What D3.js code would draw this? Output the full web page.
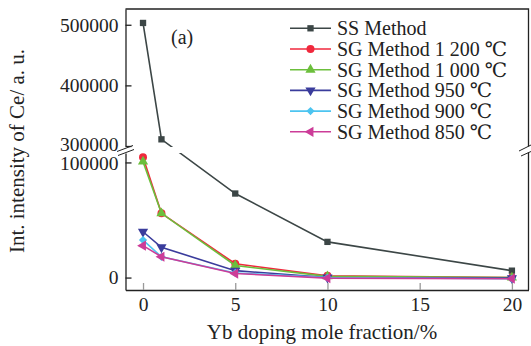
<!DOCTYPE html>
<html>
<head>
<meta charset="utf-8">
<script src="https://cdn.jsdelivr.net/npm/d3@7"></script>
<style>
body { margin: 0; background: #fff; }
text { font-family: "Liberation Serif", "DejaVu Serif", serif; fill: #222; }
</style>
</head>
<body>
<svg width="531" height="346"></svg>
<script>
// data
var xVals = [0, 1, 5, 10, 20];
var ssMethod = [503000, 311000, 73000, 31000, 6000];
var sg1200 = [104500, 55800, 12000, 1500, 0];
var sg1000 = [100700, 55800, 10500, 1000, 0];
var sg950 = [39800, 26300, 6000, 0, -500];
var sg900 = [32600, 18000, 4000, 0, -1000];
var sg850 = [27700, 18100, 3500, -500, -1000];
var seriesNames = ["SS Method", "SG Method 1 200 \u2103", "SG Method 1 000 \u2103",
    "SG Method 950 \u2103", "SG Method 900 \u2103", "SG Method 850 \u2103"];
var xTicks = [0, 5, 10, 15, 20];
var yTopTicks = [300000, 400000, 500000];
var yBotTicks = [0, 100000];

var colors = ["#3c4646", "#f0283c", "#6cbf3c", "#3a3c9c", "#4cc4f0", "#cc3c98"];
var shapes = ["square", "circle", "up", "down", "diamond", "left"];

function main() {
    var svg = d3.select("svg");
    var seriesVals = [ssMethod, sg1200, sg1000, sg950, sg900, sg850];

    var xScale = d3.scaleLinear().domain([-0.95, 20.9]).range([125.5, 528.5]);
    // broken y axis: two linear pieces
    var yTop = d3.scaleLinear().domain([300000, 526000]).range([146, 9]);
    var yBot = d3.scaleLinear().domain([-10800, 108200]).range([290, 153]);
    function yPos(v) { return v >= 200000 ? yTop(v) : yBot(v); }

    function symbolPath(kind) {
        if (kind == "square") return d3.symbol(d3.symbolSquare, 40)();
        if (kind == "circle") return d3.symbol(d3.symbolCircle, 50)();
        if (kind == "diamond") return d3.symbol(d3.symbolSquare, 34)();
        return d3.symbol(d3.symbolTriangle, 45)();
    }
    function symbolRot(kind) {
        if (kind == "down") return 180;
        if (kind == "left") return -90;
        if (kind == "diamond") return 45;
        return 0;
    }

    var line = d3.line()
        .x(function (d) { return xScale(d[0]); })
        .y(function (d) { return yPos(d[1]); });

    // series
    seriesVals.forEach(function (vals, i) {
        var pts = xVals.map(function (xv, j) { return [xv, vals[j]]; });
        var g = svg.append("g");
        g.append("path")
            .attr("d", line(pts))
            .attr("fill", "none")
            .attr("stroke", colors[i])
            .attr("stroke-width", 1.6);
        g.selectAll("path.mk")
            .data(pts)
            .enter().append("path")
            .attr("class", "mk")
            .attr("d", symbolPath(shapes[i]))
            .attr("fill", colors[i])
            .attr("transform", function (d) {
                return "translate(" + xScale(d[0]) + "," + yPos(d[1]) + ") rotate(" + symbolRot(shapes[i]) + ")";
            });
    });

    // white band for the break
    svg.append("rect")
        .attr("x", 120).attr("y", 147)
        .attr("width", 411).attr("height", 6)
        .attr("fill", "#fff");

    // axes
    var axTop = svg.append("g").attr("transform", "translate(125.5,0)")
        .call(d3.axisLeft(yTop).tickValues(yTopTicks).tickSizeInner(-6).tickSizeOuter(0).tickPadding(7)
            .tickFormat(d3.format("d")));
    var axBot = svg.append("g").attr("transform", "translate(125.5,0)")
        .call(d3.axisLeft(yBot).tickValues(yBotTicks).tickSizeInner(-6).tickSizeOuter(0).tickPadding(7)
            .tickFormat(d3.format("d")));
    var axX = svg.append("g").attr("transform", "translate(0,290)")
        .call(d3.axisBottom(xScale).tickValues(xTicks).tickSizeInner(-7).tickSizeOuter(0).tickPadding(7));

    svg.selectAll(".tick text").attr("font-size", "19.5px")
        .style("font-family", "'Liberation Serif', serif");
    // labels at the break sit close together, nudge them apart a little
    axTop.selectAll(".tick text").filter(function (d) { return d == 300000; }).attr("dy", "0.22em");
    axBot.selectAll(".tick text").filter(function (d) { return d == 100000; }).attr("dy", "0.38em");
    svg.selectAll(".domain, .tick line").attr("stroke", "#222").attr("stroke-width", 1.3);
    axX.selectAll(".tick line").attr("stroke", "#999");
    svg.selectAll(".tick text").attr("fill", "#222");

    // top and right frame
    svg.append("path")
        .attr("d", "M125.5,9H528.5V146.5M528.5,152.5V290")
        .attr("fill", "none").attr("stroke", "#222").attr("stroke-width", 1.3);

    // break marks
    var brk = [[117, 151.5, 133, 145.5], [118, 155.5, 134, 149.5],
               [519, 151, 531, 145], [521, 156, 531, 151.5]];
    svg.selectAll("line.brk")
        .data(brk)
        .enter().append("line")
        .attr("class", "brk")
        .attr("x1", function (d) { return d[0]; })
        .attr("y1", function (d) { return d[1]; })
        .attr("x2", function (d) { return d[2]; })
        .attr("y2", function (d) { return d[3]; })
        .attr("stroke", "#222").attr("stroke-width", 1);

    // titles
    svg.append("text")
        .attr("x", 322).attr("y", 339)
        .attr("text-anchor", "middle")
        .attr("font-size", "21px")
        .text("Yb doping mole fraction/%");
    svg.append("text")
        .attr("transform", "translate(24,151) rotate(-90)")
        .attr("text-anchor", "middle")
        .attr("font-size", "21px")
        .text("Int. intensity of Ce/ a. u.");
    svg.append("text")
        .attr("x", 171).attr("y", 44)
        .attr("font-size", "20px")
        .text("(a)");

    // legend
    var legend = svg.append("g");
    seriesNames.forEach(function (name, i) {
        var cy = 28.3 + i * 20.7;
        legend.append("line")
            .attr("x1", 290).attr("x2", 331)
            .attr("y1", cy).attr("y2", cy)
            .attr("stroke", colors[i]).attr("stroke-width", 1.6);
        legend.append("path")
            .attr("d", symbolPath(shapes[i]))
            .attr("fill", colors[i])
            .attr("transform", "translate(310.5," + cy + ") rotate(" + symbolRot(shapes[i]) + ")");
        legend.append("text")
            .attr("x", 337).attr("y", cy + 7)
            .attr("font-size", "20px")
            .text(name);
    });
}
main();
</script>
</body>
</html>
